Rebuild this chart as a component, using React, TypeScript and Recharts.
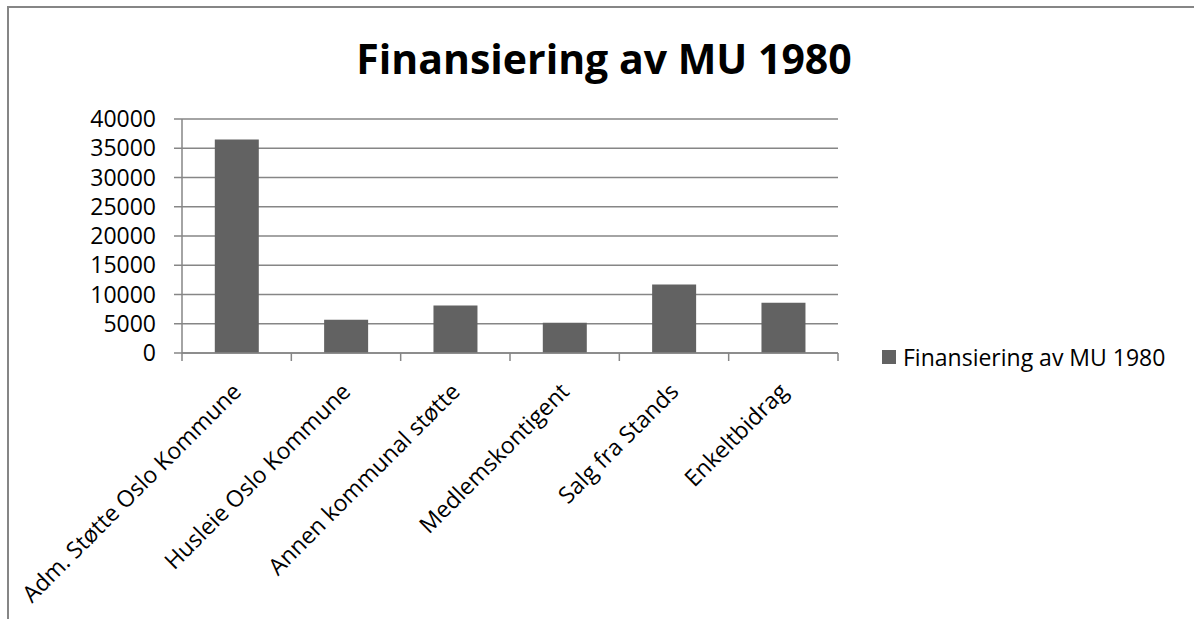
import React from 'react';
import { BarChart, Bar, XAxis, YAxis, CartesianGrid, Legend } from 'recharts';

const categories = [
  'Adm. Støtte Oslo Kommune',
  'Husleie Oslo Kommune',
  'Annen kommunal støtte',
  'Medlemskontigent',
  'Salg fra Stands',
  'Enkeltbidrag',
];
const values = [36500, 5700, 8100, 5150, 11700, 8600];
const yTicks = [0, 5000, 10000, 15000, 20000, 25000, 30000, 35000, 40000];
const seriesName = 'Finansiering av MU 1980';
const title = 'Finansiering av MU 1980';

const data = categories.map((c, i) => ({ name: c, value: values[i] }));

const FONT = "'Open Sans', 'Liberation Sans', sans-serif";
const GRID = '#868686';
const BAR = '#626262';
const FS = 23;

const XTick = (props: any) => {
  const { x, y, payload, index, visibleTicksCount } = props;
  const off = payload.offset || 0;
  const axisY = y;
  const ax = x + 6;
  const ay = axisY + 40;
  return (
    <g>
      <line x1={x - off} x2={x - off} y1={axisY} y2={axisY + 8} stroke={GRID} strokeWidth={1.5} />
      {index === visibleTicksCount - 1 && (
        <line x1={x + off} x2={x + off} y1={axisY} y2={axisY + 8} stroke={GRID} strokeWidth={1.5} />
      )}
      <text
        x={ax}
        y={ay}
        textAnchor="end"
        transform={`rotate(-45 ${ax} ${ay})`}
        fontFamily={FONT}
        fontSize={FS}
        fill="#000"
      >
        {payload.value}
      </text>
    </g>
  );
};

const LegendContent = () => (
  <div style={{ display: 'flex', alignItems: 'center', fontFamily: FONT, fontSize: FS, color: '#000', whiteSpace: 'nowrap' }}>
    <div style={{ width: 14, height: 14, background: BAR, marginRight: 7 }} />
    <span>{seriesName}</span>
  </div>
);

export default function App() {
  return (
    <div style={{ position: 'absolute', left: 0, top: 0, width: 1194, height: 619, background: '#fff' }}>
      <div
        style={{
          position: 'absolute',
          left: 7,
          top: 6,
          width: 1187,
          height: 613,
          borderTop: `2px solid ${GRID}`,
          borderLeft: `2px solid ${GRID}`,
          boxSizing: 'border-box',
        }}
      />
      <div
        style={{
          position: 'absolute',
          left: 0,
          width: 1208,
          top: 30,
          textAlign: 'center',
          fontFamily: FONT,
          fontWeight: 700,
          fontSize: 41,
          lineHeight: '56px',
          color: '#000',
        }}
      >
        {title}
      </div>
      <BarChart
        width={1194}
        height={619}
        data={data}
        margin={{ top: 119, right: 356, bottom: 226, left: 0 }}
        barCategoryGap="30%"
        style={{ position: 'absolute', left: 0, top: 0 }}
      >
        <CartesianGrid horizontal vertical={false} stroke={GRID} strokeWidth={1.5} />
        <XAxis
          dataKey="name"
          height={40}
          interval={0}
          tickLine={false}
          axisLine={{ stroke: GRID, strokeWidth: 1.5 }}
          tickSize={0}
          tickMargin={0}
          tick={<XTick />}
        />
        <YAxis
          width={182}
          domain={[0, 40000]}
          ticks={yTicks}
          interval={0}
          tickSize={8}
          tickMargin={18}
          axisLine={{ stroke: GRID, strokeWidth: 1.5 }}
          tickLine={{ stroke: GRID, strokeWidth: 1.5 }}
          tick={{ fontFamily: FONT, fontSize: FS, fill: '#000' }}
        />
        <Legend
          layout="horizontal"
          verticalAlign="middle"
          align="center"
          content={<LegendContent />}
          wrapperStyle={{ left: 882, top: 341, width: 'auto' }}
        />
        <Bar dataKey="value" name={seriesName} fill={BAR} isAnimationActive={false} />
      </BarChart>
    </div>
  );
}
